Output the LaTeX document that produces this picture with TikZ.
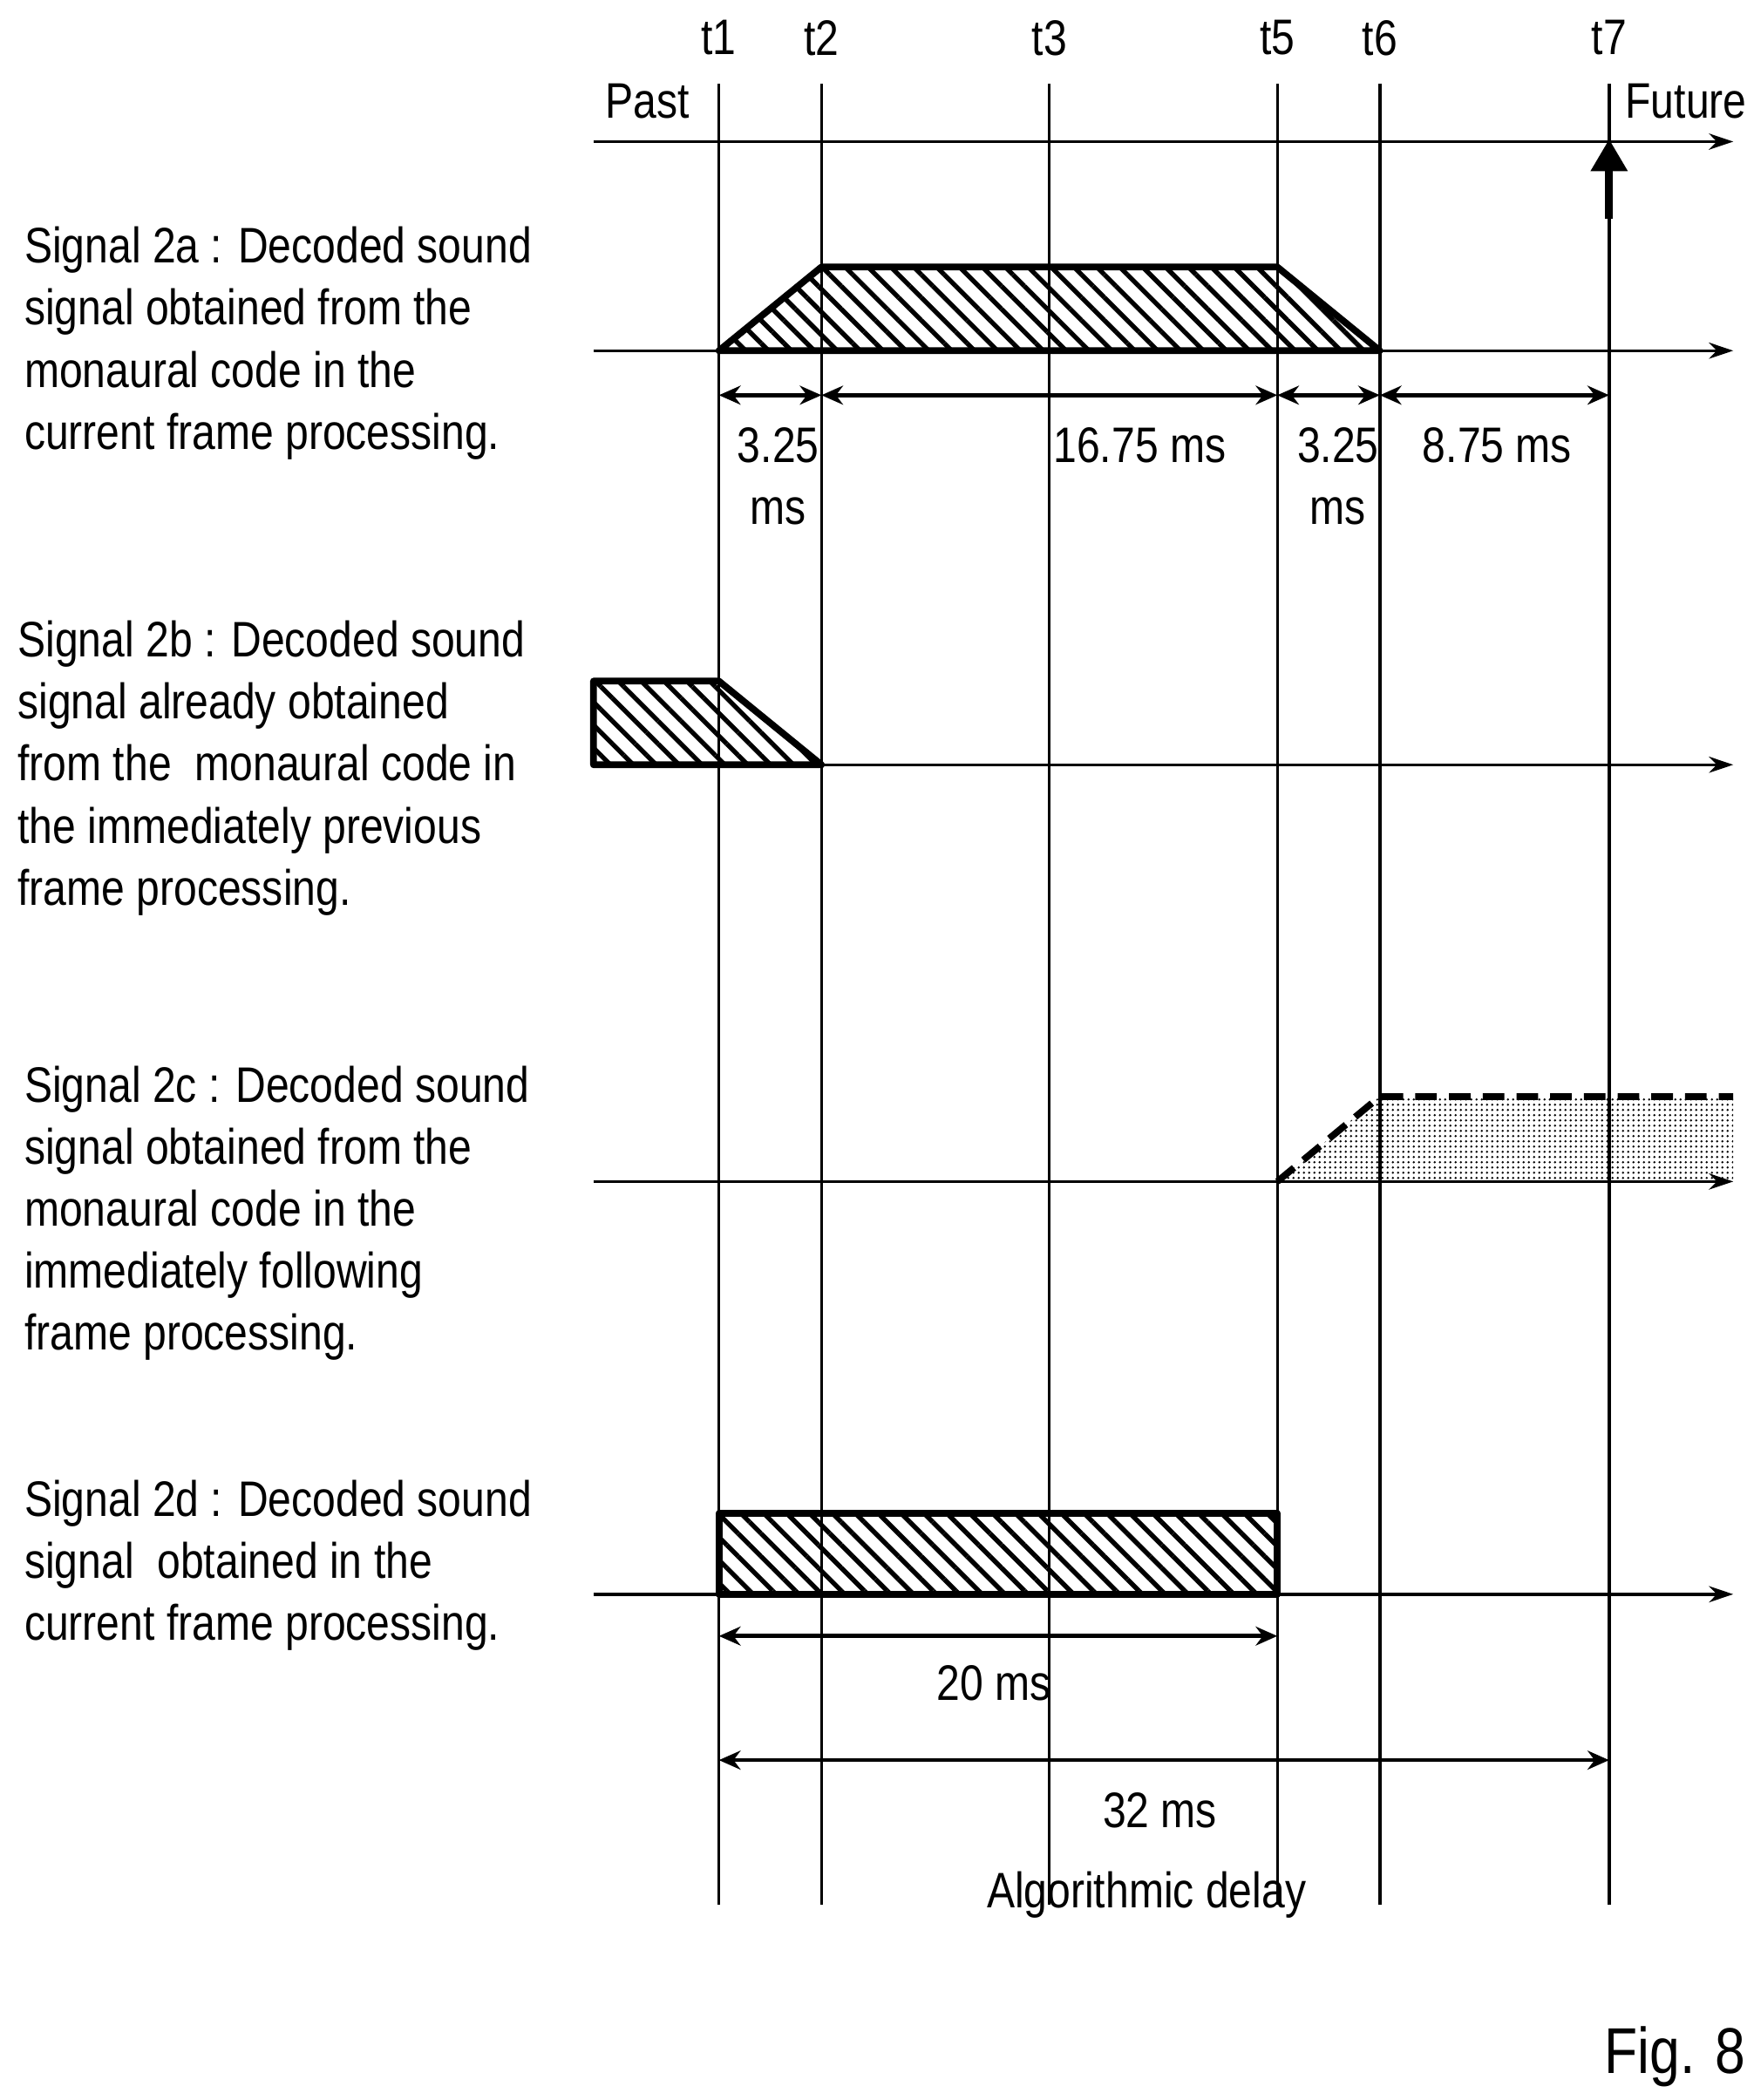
\documentclass[tikz,border=0pt]{standalone}
\usepackage{fontspec}
\setmainfont{Liberation Sans}[FakeStretch=0.84]
\usetikzlibrary{patterns.meta,arrows.meta}
\begin{document}
\begin{tikzpicture}[x=1pt,y=-1pt,
  txt/.style={font=\fontsize{37}{46}\selectfont,inner sep=0},
  lbl/.style={txt,align=left,anchor=north west},
  vl/.style={line width=2.2pt},
  ax/.style={line width=2.2pt,-{Stealth[length=18pt,width=12pt]}},
  dim/.style={line width=3pt,{Stealth[length=16pt,width=14pt]}-{Stealth[length=16pt,width=14pt]}},
  hat/.style={line width=5pt,line join=round,pattern={Lines[angle=-45,distance=12pt,line width=3.5pt]}},
]
\useasboundingbox (0,0) rectangle (1300,1557);
% time points
\foreach \n/\x in {t1/533,t2/609,t3/778,t5/947,t6/1023,t7/1193}{
  \coordinate (\n top) at (\x,62); \coordinate (\n bot) at (\x,1412);
  \draw[vl] (\n top) -- (\n bot);
  \node[txt] (\n lab) at (\x,28) {\n};
}
% top axis
\coordinate (a0s) at (440,105); \coordinate (a0e) at (1285,105);
\draw[ax] (a0s) -- (a0e);
\node[txt] (past) at (480,75) {Past};
\node[txt] (future) at (1250,75) {Future};
\coordinate (upS) at (1193,162); \coordinate (upE) at (1193,103);
\draw[line width=6pt,-{Triangle[length=24pt,width=26pt]}] (upS) -- (upE);
% 2a
\draw[hat] (533,260) -- (609,198) -- (947,198) -- (1023,260) -- cycle;
\coordinate (a1s) at (440,260); \coordinate (a1e) at (1285,260);
\draw[ax] (a1s) -- (a1e);
\foreach \a/\b/\k in {533/609/1,609/947/2,947/1023/3,1023/1193/4}{
  \coordinate (d\k s) at (\a,293); \coordinate (d\k e) at (\b,293);
  \draw[dim] (d\k s) -- (d\k e);}
\node[txt,align=center] (l1) at (577,353) {3.25\\ms};
\node[txt] (l2) at (845,330) {16.75 ms};
\node[txt,align=center] (l3) at (992,353) {3.25\\ms};
\node[txt] (l4) at (1110,330) {8.75 ms};
% 2b
\draw[hat] (440,505) -- (533,505) -- (609,567) -- (440,567) -- cycle;
\coordinate (a2s) at (440,567); \coordinate (a2e) at (1285,567);
\draw[ax] (a2s) -- (a2e);
% 2c
\fill[pattern={Dots[distance=4pt,radius=1pt]},pattern color=black] (947,876) -- (1023,813) -- (1285,813) -- (1285,876) -- cycle;
\draw[line width=5pt,dash pattern=on 16pt off 9pt] (947,876) -- (1023,813) -- (1285,813);
\coordinate (a3s) at (440,876); \coordinate (a3e) at (1285,876);
\draw[ax] (a3s) -- (a3e);
% 2d
\draw[hat] (533,1122) rectangle (947,1182);
\coordinate (a4s) at (440,1182); \coordinate (a4e) at (1285,1182);
\draw[ax] (a4s) -- (a4e);
\coordinate (e1s) at (533,1213); \coordinate (e1e) at (947,1213);
\draw[dim] (e1s) -- (e1e);
\node[txt] (l20) at (737,1248) {20 ms};
\coordinate (e2s) at (533,1305); \coordinate (e2e) at (1193,1305);
\draw[dim] (e2s) -- (e2e);
\node[txt] (l32) at (860,1342) {32 ms};
\node[txt] (alg) at (850,1405) {Algorithmic delay};
\node[inner sep=0,font=\fontsize{48}{56}\selectfont] (fig) at (1242,1525) {Fig. 8};
% left labels
\node[lbl] (s2a) at (18,168) {Signal 2a : Decoded sound\\signal obtained from the\\monaural code in the\\current frame processing.};
\node[lbl] (s2b) at (13,460) {Signal 2b : Decoded sound\\signal already obtained\\from the\ \ monaural code in\\the immediately previous\\frame processing.};
\node[lbl] (s2c) at (18,790) {Signal 2c : Decoded sound\\signal obtained from the\\monaural code in the\\immediately following\\frame processing.};
\node[lbl] (s2d) at (18,1097) {Signal 2d : Decoded sound\\signal\ \ obtained in the\\current frame processing.};
\end{tikzpicture}
\end{document}
